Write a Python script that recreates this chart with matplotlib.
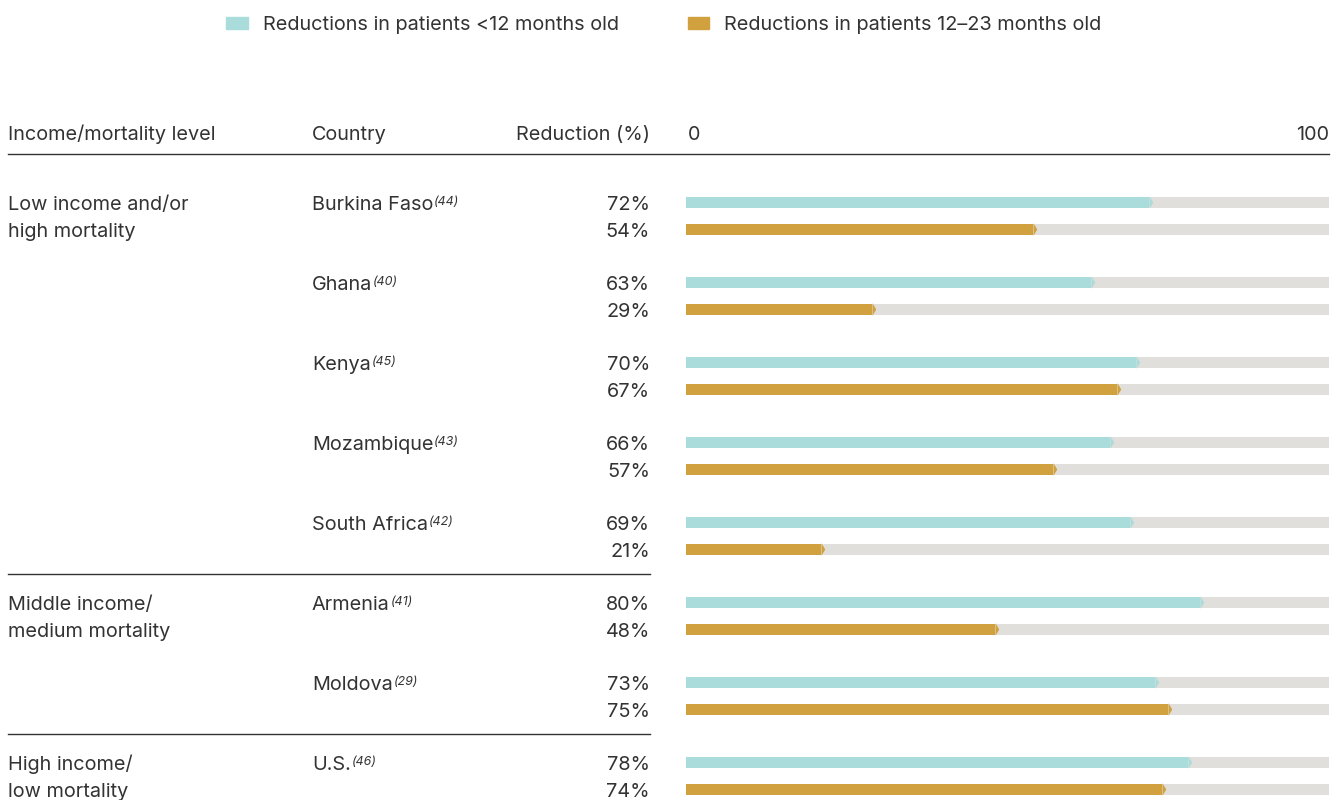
import matplotlib.pyplot as plt
from matplotlib.patches import Patch
from matplotlib.transforms import blended_transform_factory

countries = ['Burkina Faso', 'Ghana', 'Kenya', 'Mozambique', 'South Africa', 'Armenia', 'Moldova', 'U.S.']
refs = ['(44)', '(40)', '(45)', '(43)', '(42)', '(41)', '(29)', '(46)']
under12 = [72, 63, 70, 66, 69, 80, 73, 78]
age12_23 = [54, 29, 67, 57, 21, 48, 75, 74]
groups = ['Low income and/or\nhigh mortality', 'Middle income/\nmedium mortality', 'High income/\nlow mortality']
group_start = [0, 5, 7]
legend_labels = ['Reductions in patients <12 months old', 'Reductions in patients 12\u201323 months old']

teal = '#aadcdb'
gold = '#d2a13f'
track = '#e0dfdc'
ink = '#333333'

plt.rcParams['font.family'] = ['Inter', 'DejaVu Sans']
fs = 14.3

W, H = 1336, 800
fig = plt.figure(figsize=(W / 100, H / 100), dpi=100)

# bar area: x 686..1329 px, y 160..800 px
ax = fig.add_axes([686 / W, 0, (1329 - 686) / W, 640 / H])
ax.set_xlim(0, 100)
ax.set_ylim(7.306, -0.694)
ax.axis('off')

off = 0.169  # half distance between the two bars of a country
bh = 11 / 80  # bar height in row units
base = 0.1  # text baseline below bar centre
tip = [(0, -1), (0.6, 0), (0, 1), (0, -1)]

for i in range(len(countries)):
    for y, v, c in [(i - off, under12[i], teal), (i + off, age12_23[i], gold)]:
        ax.barh(y, 100, height=bh, color=track, linewidth=0)
        ax.barh(y, v, height=bh, color=c, linewidth=0)
        ax.plot([v], [y], marker=tip, markersize=9, color=c, markeredgewidth=0, clip_on=False)

tr = blended_transform_factory(fig.transFigure, ax.transData)

for i, name in enumerate(countries):
    t = ax.text(312 / W, i - off + base, name, transform=tr, ha='left', va='baseline', fontsize=fs, color=ink)
    ax.annotate(refs[i], xy=(1, 1), xycoords=t, xytext=(0.5, 0), textcoords='offset points',
                ha='left', va='top', fontsize=9, style='italic', color=ink)
    ax.text(650 / W, i - off + base, f'{under12[i]}%', transform=tr, ha='right', va='baseline', fontsize=fs, color=ink)
    ax.text(650 / W, i + off + base, f'{age12_23[i]}%', transform=tr, ha='right', va='baseline', fontsize=fs, color=ink)

for g, s in zip(groups, group_start):
    l1, l2 = g.split('\n')
    ax.text(8 / W, s - off + base, l1, transform=tr, ha='left', va='baseline', fontsize=fs, color=ink)
    ax.text(8 / W, s + off + base, l2, transform=tr, ha='left', va='baseline', fontsize=fs, color=ink)
    if s > 0:
        ax.plot([8 / W, 650 / W], [s - 0.52, s - 0.52], transform=tr, color=ink, lw=1, clip_on=False)

# header
hy = 1 - 140 / H
fig.text(8 / W, hy, 'Income/mortality level', ha='left', va='baseline', fontsize=fs, color=ink)
fig.text(312 / W, hy, 'Country', ha='left', va='baseline', fontsize=fs, color=ink)
fig.text(650 / W, hy, 'Reduction (%)', ha='right', va='baseline', fontsize=fs, color=ink)
fig.text(688 / W, hy, '0', ha='left', va='baseline', fontsize=fs, color=ink)
fig.text(1329 / W, hy, '100', ha='right', va='baseline', fontsize=fs, color=ink)
fig.add_artist(plt.Line2D([8 / W, 1329 / W], [1 - 154 / H] * 2, color=ink, lw=1))

handles = [Patch(color=teal), Patch(color=gold)]
fig.legend(handles, legend_labels, loc='center', bbox_to_anchor=(664 / W, 1 - 25 / H), ncol=2,
           frameon=False, fontsize=fs, handlelength=1.1, handleheight=0.55, handletextpad=0.75,
           columnspacing=3.45, labelcolor=ink, borderpad=0, borderaxespad=0)

fig.savefig('out.png', dpi=100)
